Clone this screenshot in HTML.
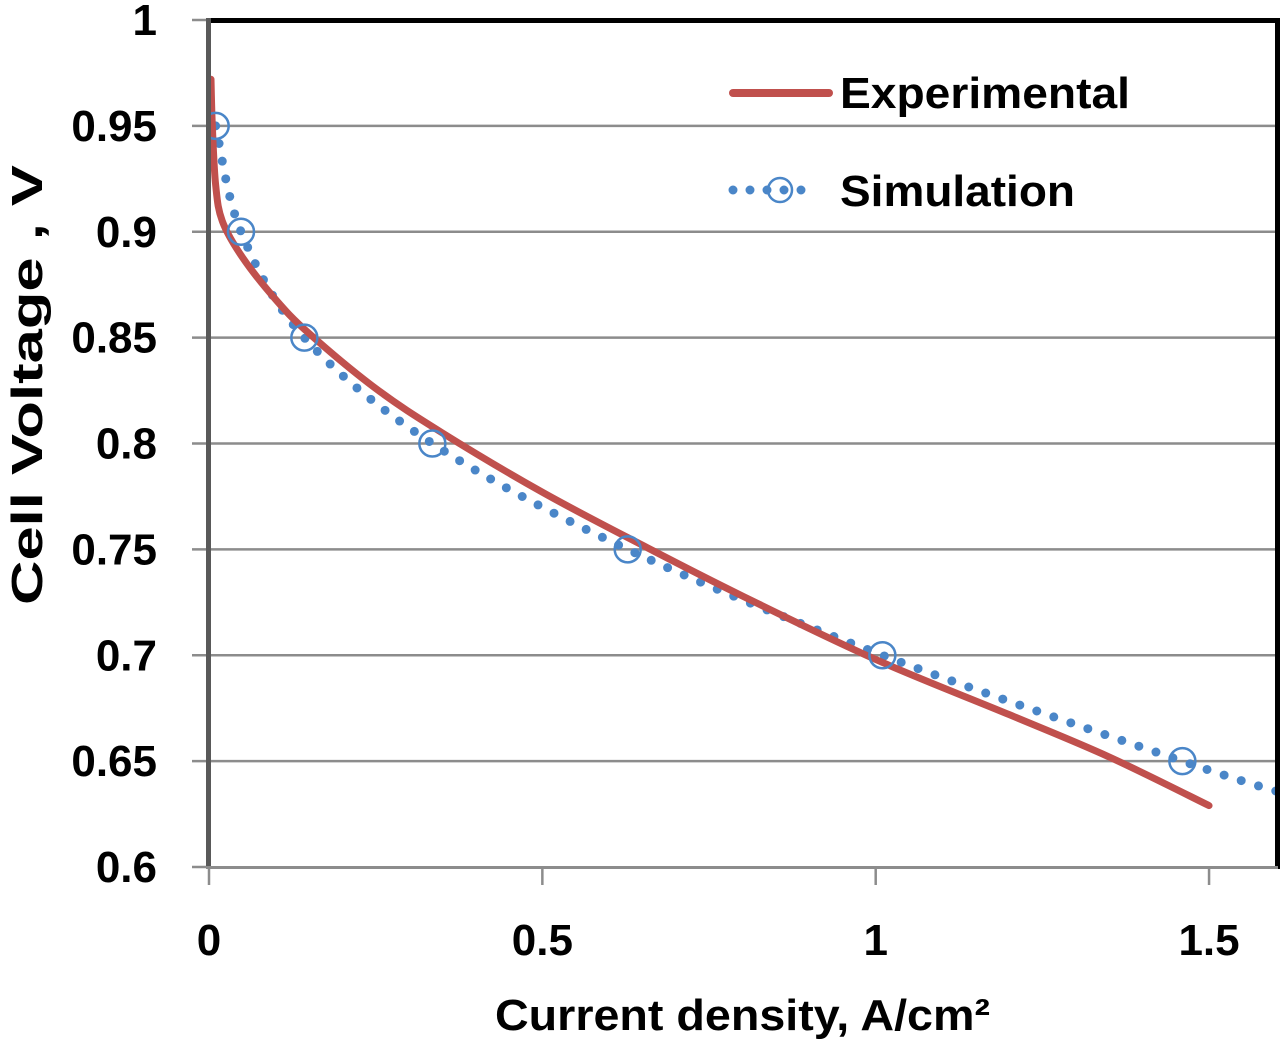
<!DOCTYPE html>
<html><head><meta charset="utf-8"><style>
html,body{margin:0;padding:0;background:#fff;}
svg{display:block;font-family:"Liberation Sans",sans-serif;font-weight:bold;}
</style></head><body>
<svg id="chart" width="1280" height="1042" viewBox="0 0 1280 1042">
<defs><clipPath id="clip"><rect x="209" y="20" width="1068" height="847"/></clipPath></defs>
<g id="grid"></g>
<g id="yticks"></g>
<g id="xticks"></g>
<g id="series" clip-path="url(#clip)"></g>
<rect x="209" y="18" width="1068" height="5" fill="#000"/>
<rect x="1275" y="18" width="5" height="851" fill="#000"/>
<rect x="206" y="18" width="5" height="851" fill="#595959"/>
<rect x="206" y="866" width="1072" height="3" fill="#8c8c8c"/>
<g>
<line x1="733" y1="93" x2="829" y2="93" stroke="#c0504d" stroke-width="8" stroke-linecap="round"/>
<text x="840" y="108" font-size="44" textLength="290" lengthAdjust="spacingAndGlyphs" fill="#000">Experimental</text>
<line x1="733" y1="190" x2="815" y2="190" stroke="#4a86c8" stroke-width="9" stroke-linecap="round" stroke-dasharray="0 17"/>
<circle cx="780" cy="190" r="12" fill="none" stroke="#4a86c8" stroke-width="2.5"/>
<text x="840" y="206" font-size="44" textLength="235" lengthAdjust="spacingAndGlyphs" fill="#000">Simulation</text>
</g>
<text x="495" y="1030" font-size="44" textLength="495" lengthAdjust="spacingAndGlyphs" fill="#000">Current density, A/cm²</text>
<text transform="translate(42,605) rotate(-90)" font-size="44" textLength="440" lengthAdjust="spacingAndGlyphs" fill="#000">Cell Voltage , V</text>
</svg>
<script>
const yTicks=[0.6,0.65,0.7,0.75,0.8,0.85,0.9,0.95,1];
const yTickLabels=["0.6","0.65","0.7","0.75","0.8","0.85","0.9","0.95","1"];
const xTicks=[0,0.5,1,1.5];
const xTickLabels=["0","0.5","1","1.5"];
const expX=[0.003,0.005,0.01,0.02,0.05,0.1,0.15,0.25,0.35,0.5,0.65,0.8,1.0,1.2,1.35,1.5];
const expY=[0.972,0.95,0.922,0.905,0.888,0.868,0.852,0.826,0.805,0.777,0.752,0.728,0.698,0.672,0.652,0.629];
const simX=[0.01,0.048,0.143,0.335,0.628,1.01,1.46,1.62];
const simY=[0.95,0.9,0.85,0.8,0.75,0.7,0.65,0.634];
const simMarkX=[0.01,0.048,0.143,0.335,0.628,1.01,1.46];
const simMarkY=[0.95,0.9,0.85,0.8,0.75,0.7,0.65];
const NS="http://www.w3.org/2000/svg";
const xs=v=>209+v*666.7;
const ys=v=>867-(v-0.6)*2117.5;
function mk(tag,attrs,parent){const e=document.createElementNS(NS,tag);for(const k in attrs)e.setAttribute(k,attrs[k]);parent.appendChild(e);return e;}
const grid=document.getElementById('grid'),yt=document.getElementById('yticks'),xt=document.getElementById('xticks'),ser=document.getElementById('series');
yTicks.forEach((v,i)=>{
  if(v>0.6&&v<1){const g=mk('line',{x1:209,x2:1277,y1:ys(v),y2:ys(v),stroke:'#8c8c8c','stroke-width':2.5},grid);
  
  }
  const t=mk('line',{x1:192,x2:209,y1:ys(v),y2:ys(v),stroke:'#8c8c8c','stroke-width':2.5},yt);
  
  
  const l=mk('text',{x:157,y:ys(v)+15,'text-anchor':'end','font-size':44,fill:'#000'},yt);
  l.textContent=yTickLabels[i];
  
  
});
xTicks.forEach((v,i)=>{
  const t=mk('line',{x1:xs(v),x2:xs(v),y1:867,y2:885,stroke:'#8c8c8c','stroke-width':2.5},xt);
  
  
  const l=mk('text',{x:xs(v),y:955,'text-anchor':'middle','font-size':44,fill:'#000'},xt);
  l.textContent=xTickLabels[i];
  
  
});
function pathFrom(X,Y){
  const p=X.map((x,i)=>[xs(x),ys(Y[i])]);
  let d='M'+p[0][0]+','+p[0][1];
  for(let i=0;i<p.length-1;i++){
    const p0=p[i-1]||p[i],p1=p[i],p2=p[i+1],p3=p[i+2]||p2;
    const c1x=p1[0]+(p2[0]-p0[0])/6,c1y=p1[1]+(p2[1]-p0[1])/6,c2x=p2[0]-(p3[0]-p1[0])/6,c2y=p2[1]-(p3[1]-p1[1])/6;
    d+=` C${c1x},${c1y} ${c2x},${c2y} ${p2[0]},${p2[1]}`;
  }
  return d;
}
const sim=mk('path',{d:pathFrom(simX,simY),fill:'none',stroke:'#4a86c8','stroke-width':9,'stroke-linecap':'round','stroke-dasharray':'0 18'},ser);


const ex=mk('path',{d:pathFrom(expX,expY),fill:'none',stroke:'#c0504d','stroke-width':7,'stroke-linecap':'round'},ser);


simMarkX.forEach((x,i)=>{
  const c=mk('circle',{cx:xs(x),cy:ys(simMarkY[i]),r:13,fill:'none',stroke:'#4a86c8','stroke-width':2.5},ser);
  
  
});
</script>
</body></html>
